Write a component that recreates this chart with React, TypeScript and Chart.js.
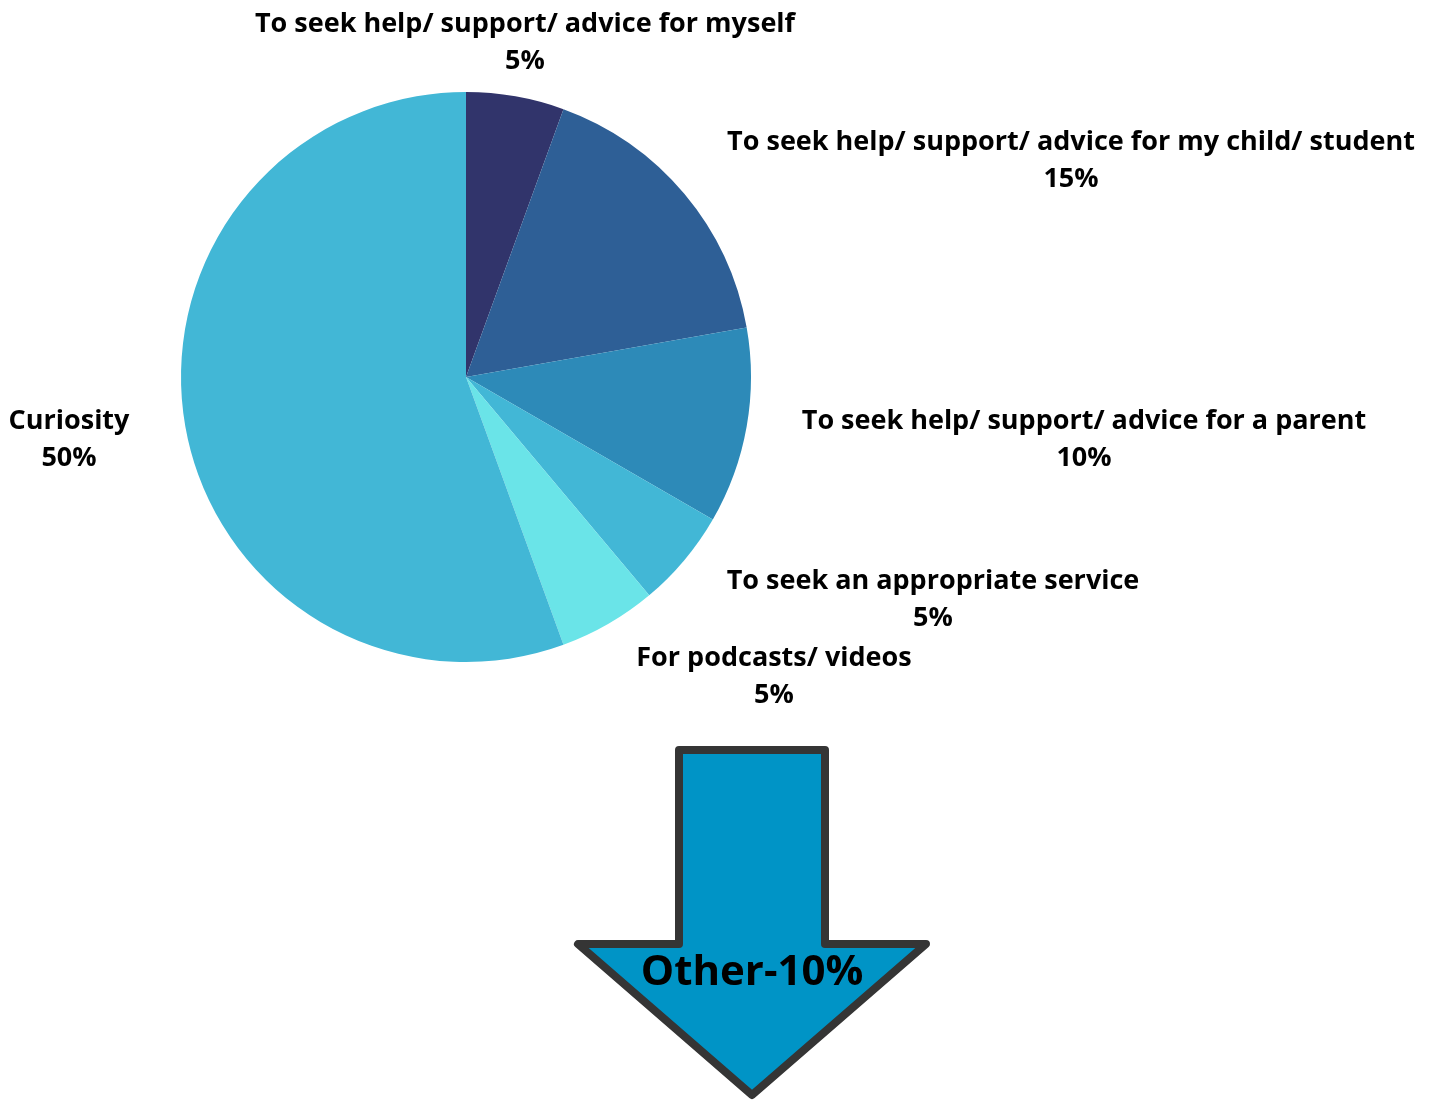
import React, { useEffect, useRef } from "react";
import { Chart, registerables } from "chart.js";

Chart.register(...registerables);

// ---- data ----
const CATEGORIES = [
  "To seek help/ support/ advice for myself",
  "To seek help/ support/ advice for my child/ student",
  "To seek help/ support/ advice for a parent",
  "To seek an appropriate service",
  "For podcasts/ videos",
  "Curiosity",
];
const VALUES = [5, 15, 10, 5, 5, 50];
const OTHER_LABEL = "Other";
const OTHER_VALUE = 10;

// ---- styles / layout ----
const COLORS = ["#31346b", "#2e5f96", "#2d8ab8", "#42b7d6", "#6ae4e8", "#42b7d6"];
// label anchor offsets (baseline of first line) relative to pie centre
const LABEL_OFFSETS: [number, number][] = [
  [59, -345],
  [605, -227],
  [618, 52],
  [467, 212],
  [308, 289],
  [-397, 52],
];
const LINE_GAP = 37;
const FONT = '"Open Sans", "Noto Sans", sans-serif';

const W = 1432;
const H = 1101;

const labelPlugin = {
  id: "outsideLabels",
  afterDraw(chart: any) {
    const ctx = chart.ctx as CanvasRenderingContext2D;
    const meta = chart.getDatasetMeta(0);
    const arc0 = meta.data[0];
    if (!arc0) return;
    const cx = arc0.x;
    const cy = arc0.y;
    ctx.save();
    ctx.fillStyle = "#000";
    ctx.textAlign = "center";
    ctx.textBaseline = "alphabetic";
    ctx.font = `bold 27px ${FONT}`;
    CATEGORIES.forEach((name, i) => {
      const [dx, dy] = LABEL_OFFSETS[i];
      ctx.fillText(name, cx + dx, cy + dy);
      ctx.fillText(`${VALUES[i]}%`, cx + dx, cy + dy + LINE_GAP);
    });

    // "Other" arrow
    const ax = cx + 286; // arrow axis x
    const top = 750;
    const shaftHalf = 73;
    const headY = 944;
    const headHalf = 174;
    const tipY = 1095;
    ctx.beginPath();
    ctx.moveTo(ax - shaftHalf, top);
    ctx.lineTo(ax + shaftHalf, top);
    ctx.lineTo(ax + shaftHalf, headY);
    ctx.lineTo(ax + headHalf, headY);
    ctx.lineTo(ax, tipY);
    ctx.lineTo(ax - headHalf, headY);
    ctx.lineTo(ax - shaftHalf, headY);
    ctx.closePath();
    ctx.fillStyle = "#0094c6";
    ctx.fill();
    ctx.lineWidth = 8;
    ctx.lineJoin = "round";
    ctx.strokeStyle = "#353535";
    ctx.stroke();

    ctx.fillStyle = "#000";
    ctx.font = `bold 42px ${FONT}`;
    ctx.fillText(`${OTHER_LABEL}-${OTHER_VALUE}%`, ax, 985);
    ctx.restore();
  },
};

export default function App() {
  const ref = useRef<HTMLCanvasElement | null>(null);
  useEffect(() => {
    if (!ref.current) return;
    const chart = new Chart(ref.current, {
      type: "pie",
      data: {
        labels: CATEGORIES,
        datasets: [
          {
            data: VALUES,
            backgroundColor: COLORS,
            borderWidth: 0,
          },
        ],
      },
      options: {
        responsive: false,
        animation: false,
        events: [],
        layout: { padding: { left: 181, right: 681, top: 92, bottom: 439 } },
        plugins: {
          legend: { display: false },
          tooltip: { enabled: false },
          title: { display: false },
        },
      },
      plugins: [labelPlugin],
    });
    return () => chart.destroy();
  }, []);
  return (
    <div style={{ position: "absolute", left: 0, top: 0, width: W, height: H, background: "#fff" }}>
      <canvas ref={ref} width={W} height={H} style={{ display: "block", width: W, height: H }} />
    </div>
  );
}
